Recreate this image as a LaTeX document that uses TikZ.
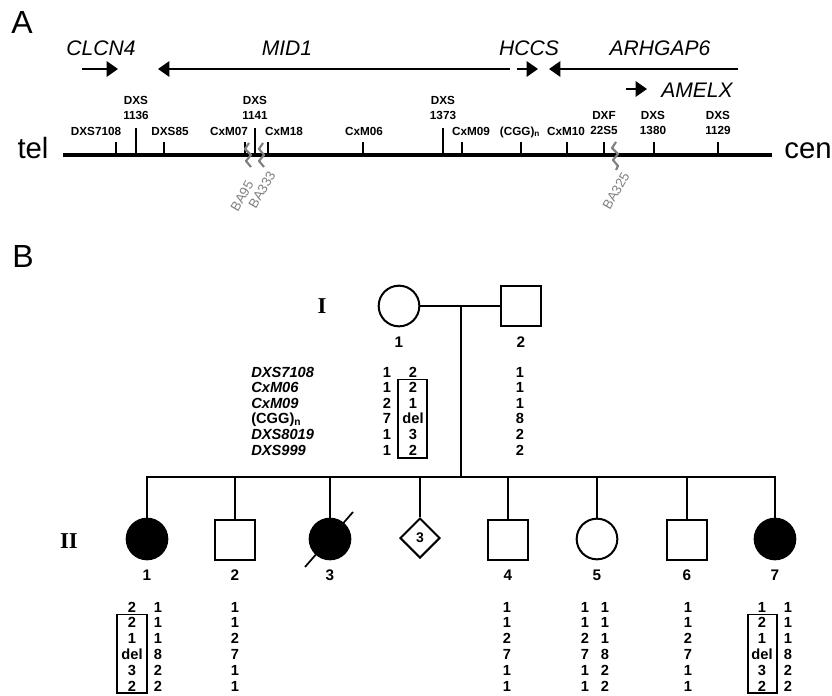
\documentclass[tikz,border=0pt]{standalone}
\usepackage{fontspec}
\setmainfont{Liberation Sans}
\newfontfamily\romanbf{Liberation Serif}
\usetikzlibrary{arrows.meta,shapes.geometric}
\newcommand{\acol}[5]{%
  \foreach \v [count=\i] in {#5} {\node[allele] (#1-\i) at ({#2},{#3+#4*(\i-1)}) {\v};}}
\begin{document}
\begin{tikzpicture}[x=0.75pt,y=-0.75pt,
  every node/.style={inner sep=0pt},
  panel/.style={font=\fontsize{24}{28}\selectfont},
  gene/.style={font=\itshape\fontsize{15.8}{18}\selectfont, anchor=base},
  genearrow/.style={line width=1.5pt, -{Triangle[length=8.5pt,width=11.5pt]}},
  endlabel/.style={font=\fontsize{22}{26}\selectfont, anchor=base},
  chrom/.style={line width=2.3pt},
  tickline/.style={line width=1.5pt},
  mk/.style={font=\bfseries\fontsize{8.8}{11.6}\selectfont, align=center, anchor=south},
  mkb/.style={font=\bfseries\fontsize{8.8}{11.6}\selectfont, anchor=base},
  brk/.style={draw=gray, line width=1.6pt, line join=round},
  brklabel/.style={text=gray, font=\fontsize{10}{12}\selectfont, rotate=60},
  ped/.style={line width=1.5pt},
  female/.style={circle, draw, line width=1.5pt, minimum size=30.5pt},
  affected/.style={female, fill=black},
  male/.style={rectangle, draw, line width=1.5pt, minimum size=29.5pt},
  unk/.style={diamond, draw, line width=1.5pt, minimum width=30pt, minimum height=30pt, font=\bfseries\fontsize{10.5}{12}\selectfont},
  gen/.style={font=\romanbf\bfseries\fontsize{17}{20}\selectfont},
  num/.style={font=\bfseries\fontsize{11.5}{13}\selectfont},
  allele/.style={font=\bfseries\fontsize{11}{12}\selectfont, anchor=base},
  aname/.style={font=\bfseries\fontsize{11}{12}\selectfont, anchor=base west},
  hbox/.style={draw, line width=1.1pt}
]
\useasboundingbox (0,0) rectangle (832,696);

% ---------- Panel A ----------
\node[panel] (pA) at (22,22) {A};
\node[gene] (gCLCN) at (101,55) {CLCN4};
\node[gene] (gMID) at (287,55) {MID1};
\node[gene] (gHCCS) at (529,55) {HCCS};
\node[gene] (gARH) at (660,55) {ARHGAP6};
\node[gene] (gAMEL) at (697,97) {AMELX};
\coordinate (aC1) at (82,69);  \coordinate (aC2) at (118,69);
\coordinate (aM1) at (510,69); \coordinate (aM2) at (158,69);
\coordinate (aH1) at (517,69); \coordinate (aH2) at (538,69);
\coordinate (aR1) at (738,69); \coordinate (aR2) at (549,69);
\coordinate (aX1) at (626,89); \coordinate (aX2) at (647,89);
\draw[genearrow] (aC1) -- (aC2);
\draw[genearrow] (aM1) -- (aM2);
\draw[genearrow] (aH1) -- (aH2);
\draw[genearrow] (aR1) -- (aR2);
\draw[genearrow] (aX1) -- (aX2);

\node[endlabel] (tel) at (33,158) {tel};
\node[endlabel] (cen) at (808,158) {cen};
\coordinate (chL) at (63,155); \coordinate (chR) at (772,155);
\draw[chrom] (chL) -- (chR);
\foreach \x in {116,164,245,268,363,462,521,567,604,654,718}
  \draw[tickline] (\x,142) -- (\x,155);
\foreach \x in {136,255,443}
  \draw[tickline] (\x,128) -- (\x,155);

\node[mkb] (m1) at (96,135) {DXS7108};
\node[mk] (m2) at (136,120) {DXS\\1136};
\node[mkb] (m3) at (170,135) {DXS85};
\node[mkb] (m4) at (229,135) {CxM07};
\node[mk] (m5) at (255,120) {DXS\\1141};
\node[mkb] (m6) at (284,135) {CxM18};
\node[mkb] (m7) at (364,135) {CxM06};
\node[mk] (m8) at (443,120) {DXS\\1373};
\node[mkb] (m9) at (471,135) {CxM09};
\node[mkb] (m10) at (520,135) {(CGG)\textsubscript{n}};
\node[mkb] (m11) at (566,135) {CxM10};
\node[mk] (m12) at (604,135) {DXF\\22S5};
\node[mk] (m13) at (653,135) {DXS\\1380};
\node[mk] (m14) at (718,135) {DXS\\1129};

\draw[brk] (249,143) -- (245,149) -- (251,155) -- (246,161) -- (251,167);
\draw[brk] (263,143) -- (259,149) -- (264,155) -- (259,161) -- (264,167);
\draw[brk] (616,142) -- (612,148) -- (618,154) -- (613,160) -- (618,166) -- (616,170);
\node[brklabel] (b95) at (242,196) {BA95};
\node[brklabel] (b333) at (262,190) {BA333};
\node[brklabel] (b325) at (616,191) {BA325};

% ---------- Panel B ----------
\node[panel] (pB) at (23,256) {B};
\node[gen] (gI) at (322,306) {I};
\node[gen] (gII) at (69,541) {II};

\node[female] (I1) at (399,306) {};
\node[male] (I2) at (521,306) {};
\node[num] (nI1) at (399,342) {1};
\node[num] (nI2) at (521,342) {2};
\draw[ped] (I1) -- (I2);
\coordinate (mar) at (461,306);
\coordinate (sib) at (461,477);
\draw[ped] (mar) -- (sib);

\node[affected] (c1) at (147,539) {};
\node[male] (c2) at (235,540) {};
\node[affected] (c3) at (330,539) {};
\node[unk] (c4) at (420,538) {3};
\node[male] (c5) at (508,540) {};
\node[female] (c6) at (597,539) {};
\node[male] (c7) at (687,540) {};
\node[affected] (c8) at (775,539) {};
\draw[ped, line join=miter] (c1.north) |- (sib) -| (c8.north);
\foreach \c in {c2,c3,c4,c5,c6,c7}
  \draw[ped] (\c.north) -- (\c.north |- sib);
\coordinate (d1) at (305,567); \coordinate (d2) at (353,512);
\draw[line width=1.3pt] (d1) -- (d2);

\node[num] (n1) at (147,575) {1};
\node[num] (n2) at (235,575) {2};
\node[num] (n3) at (330,575) {3};
\node[num] (n4) at (508,575) {4};
\node[num] (n5) at (597,575) {5};
\node[num] (n6) at (687,575) {6};
\node[num] (n7) at (775,575) {7};

% allele table generation I
\node[aname] (k1) at (251,377.0) {\textit{DXS7108}};
\node[aname] (k2) at (251,392.6) {\textit{CxM06}};
\node[aname] (k3) at (251,408.2) {\textit{CxM09}};
\node[aname] (k4) at (251,423.8) {(CGG)\textsubscript{n}};
\node[aname] (k5) at (251,439.4) {\textit{DXS8019}};
\node[aname] (k6) at (251,455.0) {\textit{DXS999}};
\acol{aI1a}{387}{377}{15.6}{1,1,2,7,1,1}
\acol{aI1b}{413}{377}{15.6}{2,2,1,del,3,2}
\acol{aI2}{520}{377}{15.6}{1,1,1,8,2,2}
\draw[hbox] (398,379.5) rectangle (427,458);

% allele table generation II
\acol{a1a}{132}{612}{15.8}{2,2,1,del,3,2}
\acol{a1b}{158}{612}{15.8}{1,1,1,8,2,2}
\acol{a2}{235}{612}{15.8}{1,1,2,7,1,1}
\acol{a4}{507}{612}{15.8}{1,1,2,7,1,1}
\acol{a5a}{585}{612}{15.8}{1,1,2,7,1,1}
\acol{a5b}{605}{612}{15.8}{1,1,1,8,2,2}
\acol{a6}{688}{612}{15.8}{1,1,2,7,1,1}
\acol{a7a}{762}{612}{15.8}{1,2,1,del,3,2}
\acol{a7b}{788}{612}{15.8}{1,1,1,8,2,2}
\draw[hbox] (117,614.5) rectangle (147,693);
\draw[hbox] (748,614.5) rectangle (777,693);
\end{tikzpicture}
\end{document}
